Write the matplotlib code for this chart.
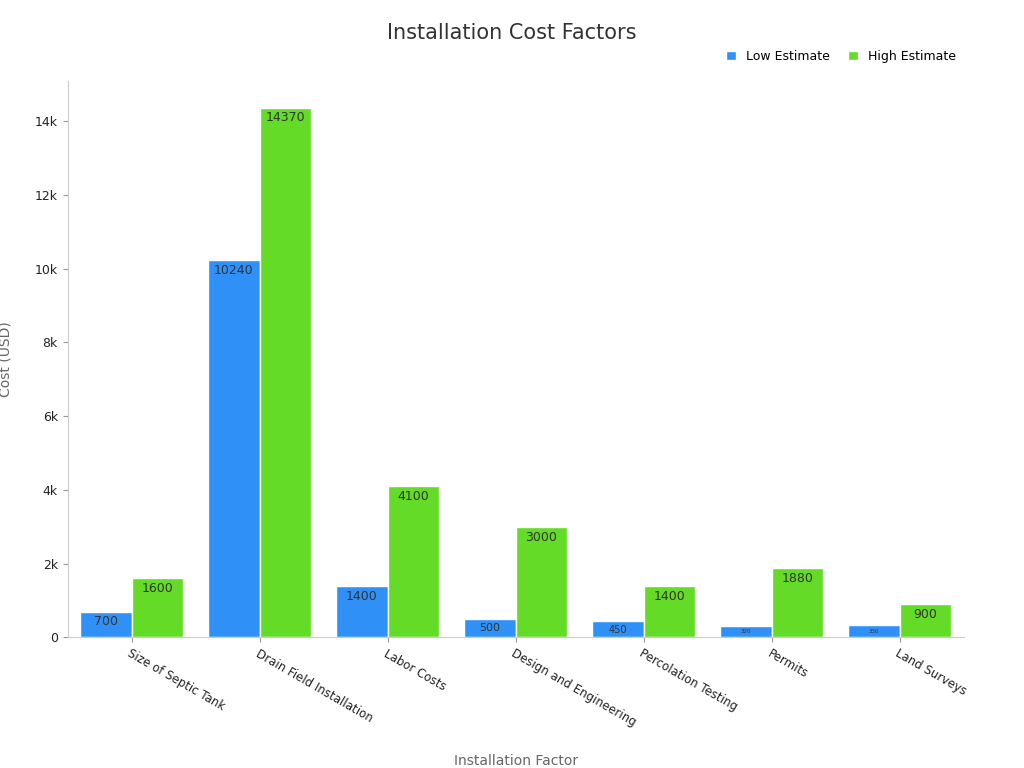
import matplotlib.pyplot as plt
import numpy as np
from matplotlib.ticker import FuncFormatter

factors = ["Size of Septic Tank", "Drain Field Installation", "Labor Costs",
           "Design and Engineering", "Percolation Testing", "Permits", "Land Surveys"]
low = [700, 10240, 1400, 500, 450, 320, 330]
high = [1600, 14370, 4100, 3000, 1400, 1880, 900]
low_sizes = [9, 9, 9, 8, 7, 4, 4]

blue = '#2f91f7'
green = '#63db27'

fig = plt.figure(figsize=(10.24, 7.68), dpi=100)
ax = fig.add_axes([0.066, 0.17, 0.875, 0.725])

x = np.arange(len(factors))
w = 0.4
b1 = ax.bar(x - w / 2, low, w, color=blue, edgecolor='white', linewidth=1, label='Low Estimate')
b2 = ax.bar(x + w / 2, high, w, color=green, edgecolor='white', linewidth=1, label='High Estimate')

for rect, v, s in zip(b1, low, low_sizes):
    ax.text(rect.get_x() + rect.get_width() / 2, v - 100, str(v), ha='center', va='top',
            fontsize=s, color='#333333')
for rect, v in zip(b2, high):
    ax.text(rect.get_x() + rect.get_width() / 2, v - 100, str(v), ha='center', va='top',
            fontsize=9, color='#333333')

ax.set_xlim(-0.5, len(factors) - 0.5)
ax.set_ylim(0, 15100)
ax.set_yticks(range(0, 14001, 2000))
ax.yaxis.set_major_formatter(FuncFormatter(lambda v, p: '0' if v == 0 else f'{int(v / 1000)}k'))
ax.set_xticks(x)
ax.set_xticklabels(factors, rotation=-30, ha='left', rotation_mode='anchor', fontsize=8.5, color='#222222')
ax.tick_params(axis='y', labelsize=9, colors='#222222')
ax.tick_params(color='#999999')

for sp in ['top', 'right']:
    ax.spines[sp].set_visible(False)
ax.spines['left'].set_color('#cccccc')
ax.spines['bottom'].set_color('#cccccc')

ax.set_xlabel('Installation Factor', fontsize=10, color='#666666')
ax.xaxis.set_label_coords(0.5, -0.21)
ax.set_ylabel('Cost (USD)', fontsize=10, color='#666666')
ax.yaxis.set_label_coords(-0.062, 0.5)
fig.suptitle('Installation Cost Factors', fontsize=15, color='#333333', y=0.97)
fig.legend(loc='upper right', bbox_to_anchor=(0.945, 0.95), ncol=2, frameon=False, fontsize=9,
           handlelength=0.8, handleheight=0.8, columnspacing=1.5)

fig.savefig('out.png', dpi=100)
